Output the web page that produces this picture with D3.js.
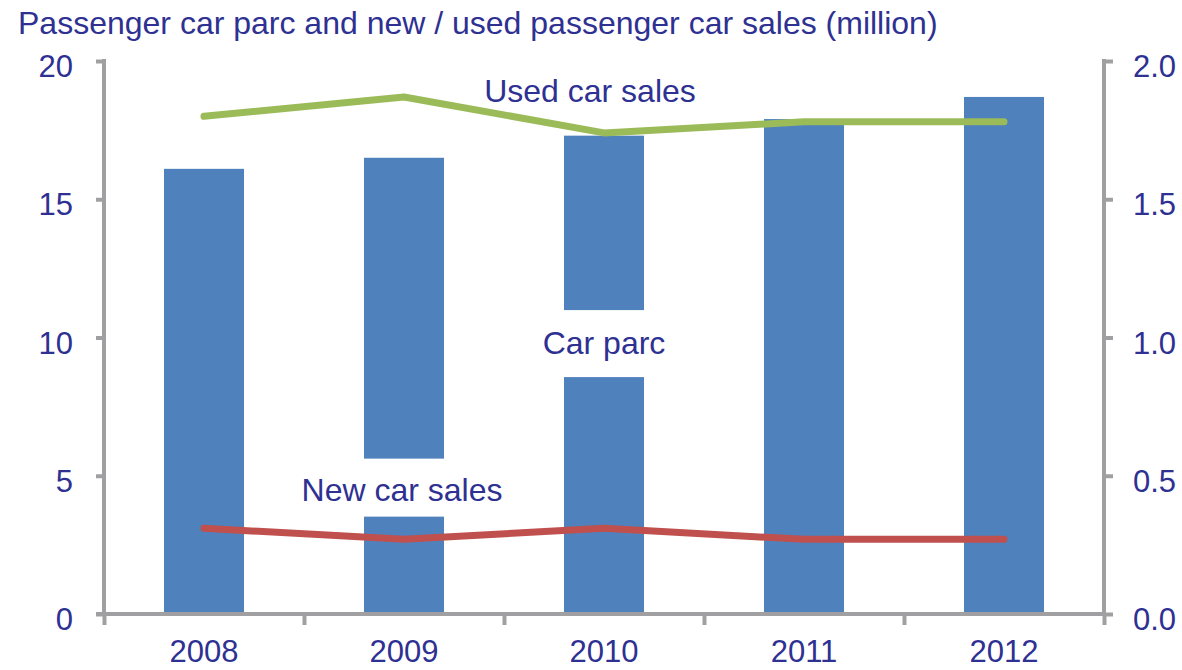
<!DOCTYPE html>
<html>
<head>
<meta charset="utf-8">
<script src="https://cdn.jsdelivr.net/npm/d3@7"></script>
<style>
  body { margin: 0; background: #fff; }
  svg { display: block; font-family: "Liberation Sans", Arial, sans-serif; }
</style>
</head>
<body>
<svg id="chart" width="1182" height="670"></svg>
<script>
const years = ['2008', '2009', '2010', '2011', '2012'];
const carParc = [16.1, 16.5, 17.3, 17.9, 18.7];           // left axis, million
const newCarSales = [0.31, 0.27, 0.31, 0.27, 0.27];       // right axis, million
const usedCarSales = [1.80, 1.87, 1.74, 1.78, 1.78];      // right axis, million
const leftTicks = [0, 5, 10, 15, 20];
const rightTicks = [0, 0.5, 1.0, 1.5, 2.0];

const textColor = '#2e3192';
const axisColor = '#a0a0a2';

const svg = d3.select('#chart');
const plotL = 104, plotR = 1104, plotT = 61, plotB = 614;

const x = d3.scaleBand().domain(years).range([plotL, plotR]).paddingInner(0.6).paddingOuter(0.3);
const xEdge = d3.scaleLinear().domain([0, years.length]).range([plotL, plotR]);
const y = d3.scaleLinear().domain([0, 20]).range([plotB, plotT]);
const y2 = d3.scaleLinear().domain([0, 2]).range([plotB, plotT]);

// title
svg.append('text')
  .attr('x', 18).attr('y', 34)
  .attr('fill', textColor)
  .style('font-size', '32px')
  .text('Passenger car parc and new / used passenger car sales (million)');

// bars
svg.append('g').selectAll('rect')
  .data(carParc)
  .join('rect')
  .attr('x', (d, i) => x(years[i]))
  .attr('y', d => y(d))
  .attr('width', x.bandwidth())
  .attr('height', d => plotB - y(d))
  .attr('fill', '#4f81bd');

// series labels, with white boxes that cut through the bars
const labels = [
  { text: 'Used car sales', cx: x('2010') + x.bandwidth() / 2 - 14, base: y2(1.85), padTop: 26, padBottom: 12 },
  { text: 'Car parc', cx: x('2010') + x.bandwidth() / 2, base: y(9.4), padTop: 44, padBottom: 23 },
  { text: 'New car sales', cx: x('2009') + x.bandwidth() / 2 - 2, base: y2(0.41), padTop: 42, padBottom: 16 }
];
const labelG = svg.append('g');
labels.forEach(l => {
  const box = labelG.append('rect').attr('fill', '#fff');
  const t = labelG.append('text')
    .attr('x', l.cx).attr('y', l.base)
    .attr('text-anchor', 'middle')
    .attr('fill', textColor)
    .style('font-size', '32px')
    .text(l.text);
  const bb = t.node().getBBox();
  box.attr('x', bb.x - 10).attr('width', bb.width + 20)
    .attr('y', l.base - l.padTop).attr('height', l.padTop + l.padBottom);
});

// lines
const line = d3.line()
  .x((d, i) => x(years[i]) + x.bandwidth() / 2)
  .y(d => y2(d));
[[usedCarSales, '#9bbb59'], [newCarSales, '#c0504d']].forEach(([vals, col]) => {
  svg.append('path')
    .datum(vals)
    .attr('d', line)
    .attr('fill', 'none')
    .attr('stroke', col)
    .attr('stroke-width', 7)
    .attr('stroke-linecap', 'round')
    .attr('stroke-linejoin', 'round');
});

function styleAxis(g) {
  g.select('.domain').remove();
  g.selectAll('.tick line').attr('stroke', axisColor).attr('stroke-width', 4);
  g.selectAll('.tick text').attr('fill', textColor).style('font-size', '31px').style('font-family', '"Liberation Sans", Arial, sans-serif');
}

// left axis
const gl = svg.append('g').attr('transform', `translate(${plotL},0)`)
  .call(d3.axisLeft(y).tickValues(leftTicks).tickSize(8).tickPadding(23))
  .call(styleAxis);
gl.selectAll('.tick text').attr('dy', '0.5em');
gl.append('line').attr('y1', plotT - 2).attr('y2', plotB + 2)
  .attr('stroke', axisColor).attr('stroke-width', 4);

// right axis
const gr = svg.append('g').attr('transform', `translate(${plotR},0)`)
  .call(d3.axisRight(y2).tickValues(rightTicks).tickFormat(d3.format('.1f')).tickSize(9).tickPadding(20))
  .call(styleAxis);
gr.selectAll('.tick text').attr('dy', '0.5em');
gr.append('line').attr('y1', plotT - 2).attr('y2', plotB + 2)
  .attr('stroke', axisColor).attr('stroke-width', 4);

// bottom axis: ticks at category edges, labels at centres
const gb = svg.append('g').attr('transform', `translate(0,${plotB})`)
  .call(d3.axisBottom(xEdge).tickValues(d3.range(years.length + 1)).tickFormat('').tickSize(11))
  .call(styleAxis);
gb.append('line').attr('x1', plotL - 8).attr('x2', plotR + 2)
  .attr('stroke', axisColor).attr('stroke-width', 4);

const gx = svg.append('g').attr('transform', `translate(0,${plotB})`)
  .call(d3.axisBottom(x).tickSize(0).tickPadding(26))
  .call(styleAxis);
gx.selectAll('.tick text').attr('dy', '0.71em');
</script>
</body>
</html>
